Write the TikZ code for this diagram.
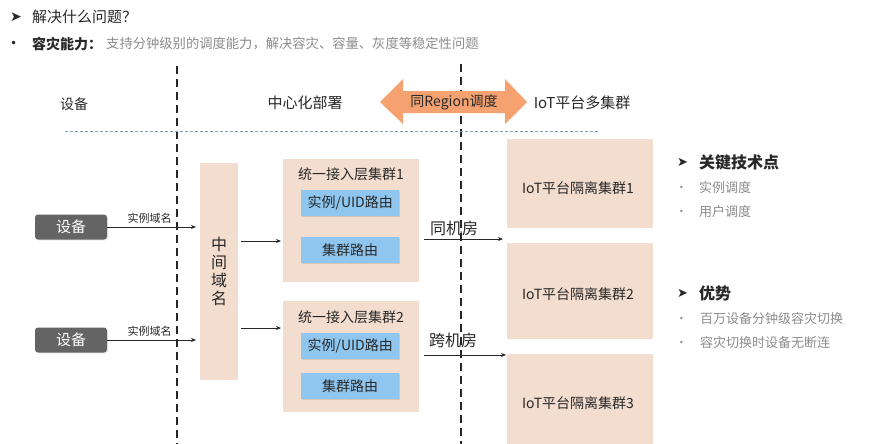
\documentclass[tikz,border=0pt]{standalone}
\usepackage{fontspec}
\setmainfont{Noto Sans CJK SC}
\newfontfamily\symfont{DejaVu Sans}
\usetikzlibrary{arrows.meta,shadows}
\definecolor{beige}{RGB}{242,221,206}
\definecolor{bluefill}{RGB}{142,198,240}
\definecolor{devgray}{RGB}{100,100,100}
\definecolor{orangearr}{RGB}{246,162,112}
\definecolor{graytext}{RGB}{140,140,140}
\definecolor{dotblue}{RGB}{120,160,200}
\definecolor{darktext}{RGB}{40,40,40}
\newcommand{\fs}[1]{\fontsize{#1}{#1}\selectfont}
\tikzset{
  devbox/.style={fill=devgray, rounded corners=3pt, minimum width=72pt, minimum height=25pt, text=white, font=\fs{15}, inner sep=0pt, drop shadow={opacity=0.15, shadow xshift=1pt, shadow yshift=-1pt}},
  beigebox/.style={fill=beige, inner sep=0pt, anchor=north west},
  routebox/.style={fill=bluefill, minimum width=98pt, minimum height=26pt, inner sep=0pt, anchor=north west, font=\fs{14}, text=darktext, drop shadow={opacity=0.25, shadow xshift=1pt, shadow yshift=-1pt}},
  lbl/.style={text=darktext, inner sep=0pt},
  arr/.style={draw=darktext, line width=0.7pt, -{Stealth[length=5pt,width=4pt]}},
  sep/.style={draw=black!85, line width=2.2pt, dash pattern=on 8pt off 5pt},
  graybul/.style={text=graytext, font=\fs{13}, anchor=west, inner sep=0pt},
  edgelbl/.style={above=3pt, font=\fs{11}, text=darktext, inner sep=0pt, xshift=-4pt},
}
\begin{document}
\begin{tikzpicture}[x=1pt,y=-1pt]
\useasboundingbox[fill=white] (0,0) rectangle (880,444);

% header text
\node[lbl, anchor=west, font=\fs{14}] (arrowT) at (10,17) {\symfont ➤};
\node[lbl, anchor=west, font=\fs{15}] (title) at (32,17) {解决什么问题？};
\node[lbl, anchor=west, font=\fs{12}] (dot0) at (10,44) {\symfont •};
\node[lbl, anchor=west, font=\fs{14}\bfseries] (cap) at (32,44) {容灾能力：};
\node[graybul, font=\fs{13.3}] (capdesc) at (106,44) {支持分钟级别的调度能力，解决容灾、容量、灰度等稳定性问题};

% separators
\draw[sep] (177,66) -- (177,444);
\draw[sep] (461,64) -- (461,444);
\draw[dotblue, line width=1pt, dash pattern=on 3pt off 2pt] (65,131) -- (600,131);

% column headers
\node[lbl, font=\fs{14}] (hdev) at (74,104) {设备};
\node[lbl, font=\fs{15}] (hcen) at (305,103) {中心化部署};
\node[lbl, font=\fs{15}] (hiot) at (582,103) {IoT平台多集群};

% orange double arrow
\fill[orangearr] (380,102) -- (403,79) -- (403,91) -- (505,91) -- (505,79) -- (527,102)
  -- (505,124) -- (505,113) -- (403,113) -- (403,124) -- cycle;
\node[lbl, font=\fs{14}] (region) at (454,102) {同Region调度};

% devices
\node[devbox] (dev1) at (71,227) {设备};
\node[devbox] (dev2) at (71,340) {设备};

% middle domain
\node[beigebox, minimum width=38pt, minimum height=217pt] (mid) at (200,163) {};
\node[lbl, font=\fs{16}, align=center] (midtxt) at (mid.center) {中\\[2pt]间\\[2pt]域\\[2pt]名};

% access clusters
\node[beigebox, minimum width=136pt, minimum height=123pt] (c1) at (283,159) {};
\node[lbl, font=\fs{14}] (c1t) at (351,174) {统一接入层集群1};
\node[routebox] (r11) at (301,190) {实例/UID路由};
\node[routebox] (r12) at (301,237) {集群路由};

\node[beigebox, minimum width=136pt, minimum height=111pt] (c2) at (283,301) {};
\node[lbl, font=\fs{14}] (c2t) at (351,317) {统一接入层集群2};
\node[routebox] (r21) at (301,333) {实例/UID路由};
\node[routebox] (r22) at (301,373) {集群路由};

% IoT clusters
\node[beigebox, minimum width=146pt, minimum height=89pt] (iot1) at (507,139) {};
\node[lbl, font=\fs{14}] (iot1t) at (578,188) {IoT平台隔离集群1};
\node[beigebox, minimum width=146pt, minimum height=96pt] (iot2) at (507,243) {};
\node[lbl, font=\fs{14}] (iot2t) at (578,294) {IoT平台隔离集群2};
\node[beigebox, minimum width=146pt, minimum height=92pt] (iot3) at (507,354) {};
\node[lbl, font=\fs{14}] (iot3t) at (578,403) {IoT平台隔离集群3};

% connectors
\draw[arr, shorten >=4pt] (dev1.east) -- (mid.west |- dev1.east)
  node[midway, edgelbl] (l1) {实例域名};
\draw[arr, shorten >=4pt] (dev2.east) -- (mid.west |- dev2.east)
  node[midway, edgelbl] (l2) {实例域名};
\draw[arr, shorten <=3pt, shorten >=2pt] (mid.east |- 0,241) -- (c1.west |- 0,241);
\draw[arr, shorten <=3pt, shorten >=2pt] (mid.east |- 0,328) -- (c2.west |- 0,328);
\draw[arr, shorten <=5pt, shorten >=4pt] (c1.east |- 0,239) -- (iot2.west |- 0,239);
\draw[arr, shorten <=5pt, shorten >=1pt] (c2.east |- 0,355) -- (iot3.west |- 0,355);
\node[lbl, font=\fs{16}] (same) at (454,228) {同机房};
\node[lbl, font=\fs{16}] (cross) at (453,340) {跨机房};

% right side
\node[lbl, anchor=west, font=\fs{13}] (ar1) at (677,162) {\symfont ➤};
\node[lbl, anchor=west, font=\fs{16}\bfseries] (key) at (699,162) {关键技术点};
\node[graybul, font=\fs{8}] (b1) at (679,188) {\symfont •};
\node[graybul] (k1) at (699,188) {实例调度};
\node[graybul, font=\fs{8}] (b2) at (679,212) {\symfont •};
\node[graybul] (k2) at (699,212) {用户调度};

\node[lbl, anchor=west, font=\fs{13}] (ar2) at (677,293) {\symfont ➤};
\node[lbl, anchor=west, font=\fs{16}\bfseries] (adv) at (699,293) {优势};
\node[graybul, font=\fs{8}] (b3) at (679,319) {\symfont •};
\node[graybul] (a1) at (700,319) {百万设备分钟级容灾切换};
\node[graybul, font=\fs{8}] (b4) at (679,343) {\symfont •};
\node[graybul] (a2) at (700,343) {容灾切换时设备无断连};
\end{tikzpicture}
\end{document}
